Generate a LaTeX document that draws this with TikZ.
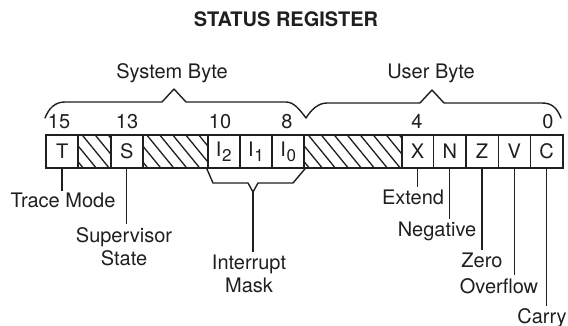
\documentclass[tikz,border=0pt]{standalone}
\usepackage{fontspec}
\setmainfont{TeX Gyre Heros}
\newcommand{\Isub}[1]{I\kern0.6pt\raisebox{-5pt}{\fontsize{17}{17}\selectfont #1}}
\begin{document}
\begin{tikzpicture}[x=1pt,y=-1pt,
  every node/.style={font=\fontsize{20}{23}\selectfont, text=black!88},
  cell/.style={draw=black!88, line width=1.4pt, minimum width=32.3pt, minimum height=33pt, inner sep=0pt},
  lbl/.style={anchor=north, inner sep=0pt, align=center},
  num/.style={anchor=base, inner sep=0pt},
  ln/.style={draw=black!88, line width=1.4pt},
  hatch/.style={draw=black!88, line width=1.3pt},
  bracelike/.style={draw=black!88, line width=1.4pt, line join=round, line cap=round}]
\useasboundingbox (0,0) rectangle (568,326);

% title and group captions
\node[num, font=\bfseries\fontsize{20}{23}\selectfont] (title) at (286,27) {STATUS REGISTER};
\node[num] (sys) at (172,79) {System Byte};
\node[num] (usr) at (431,79) {User Byte};

% braces
\draw[bracelike] (45,118) .. controls (49,108) and (55,102) .. (65,102) -- (162,102) -- (174,89) -- (186,102) -- (286,102) .. controls (294,102) and (300,110) .. (306,118);
\draw[bracelike] (306,118) .. controls (311,110) and (318,103) .. (327,103) -- (420,103) -- (432,90) -- (444,103) -- (542,103) .. controls (552,103) and (557,108) .. (561,118);

% bit numbers
\node[num] (n15) at (59,129) {15};
\node[num] (n13) at (127,129) {13};
\node[num] (n10) at (220,129) {10};
\node[num] (n8) at (287,129) {8};
\node[num] (n4) at (417,129) {4};
\node[num] (n0) at (548,129) {0};

% register cells
\node[cell] (h14) at (94.45,151.5) {};
\node[cell, minimum width=64.6pt] (h12) at (175.2,151.5) {};
\node[cell, minimum width=96.9pt] (h7) at (352.85,151.5) {};
\foreach \h in {h14,h12,h7} {
  \begin{scope}
    \clip (\h.north west) rectangle (\h.south east);
    \foreach \i in {-2,...,8}
      \draw[hatch] ([xshift=\i*13pt+4pt]\h.north west) -- ++(27,33);
  \end{scope}
}
\node[cell] (c15) at (62.15,151.5) {T};
\node[cell] (c13) at (126.75,151.5) {S};
\node[cell] (c10) at (223.65,151.5) {\Isub{2}};
\node[cell] (c9) at (255.95,151.5) {\Isub{1}};
\node[cell] (c8) at (288.25,151.5) {\Isub{0}};
\node[cell] (c4) at (417.45,151.5) {X};
\node[cell] (c3) at (449.75,151.5) {N};
\node[cell] (c2) at (482.05,151.5) {Z};
\node[cell] (c1) at (514.35,151.5) {V};
\node[cell] (c0) at (546.65,151.5) {C};
\draw[ln] (h14.north west) rectangle (h14.south east);
\draw[ln] (h12.north west) rectangle (h12.south east);
\draw[ln] (h7.north west) rectangle (h7.south east);

% labels
\node[lbl] (tm) at (63,193) {Trace Mode};
\node[lbl] (ss) at (124,227) {Supervisor\\State};
\node[lbl] (im) at (249,255) {Interrupt\\Mask};
\node[lbl] (ex) at (413,190) {Extend};
\node[lbl] (ng) at (437,222) {Negative};
\node[lbl] (zr) at (482,253) {Zero};
\node[lbl] (ov) at (499,278) {Overflow};
\node[lbl] (cy) at (542,308) {Carry};

% interrupt bracket
\coordinate (iv) at (253,192);
\draw[bracelike] (c10.south west) -- (213,183) -- (248,183) -- (iv) -- (258,183) -- (293,183) -- (c8.south east);
\draw[ln, shorten >=3pt] (iv) -- (iv |- im.north);

% stems
\draw[ln, shorten >=2pt] (c15.south) -- (c15.south |- tm.north);
\draw[ln, shorten >=3pt] (c13.south) -- (c13.south |- ss.north);
\draw[ln, shorten >=3pt] (c4.south) -- (c4.south |- ex.north);
\draw[ln, shorten >=3pt] (c3.south) -- (c3.south |- ng.north);
\draw[ln, shorten >=3pt] (c2.south) -- (c2.south |- zr.north);
\draw[ln, shorten >=3pt] (c1.south) -- (c1.south |- ov.north);
\draw[ln, shorten >=2pt] (c0.south) -- (c0.south |- cy.north);
\end{tikzpicture}
\end{document}
